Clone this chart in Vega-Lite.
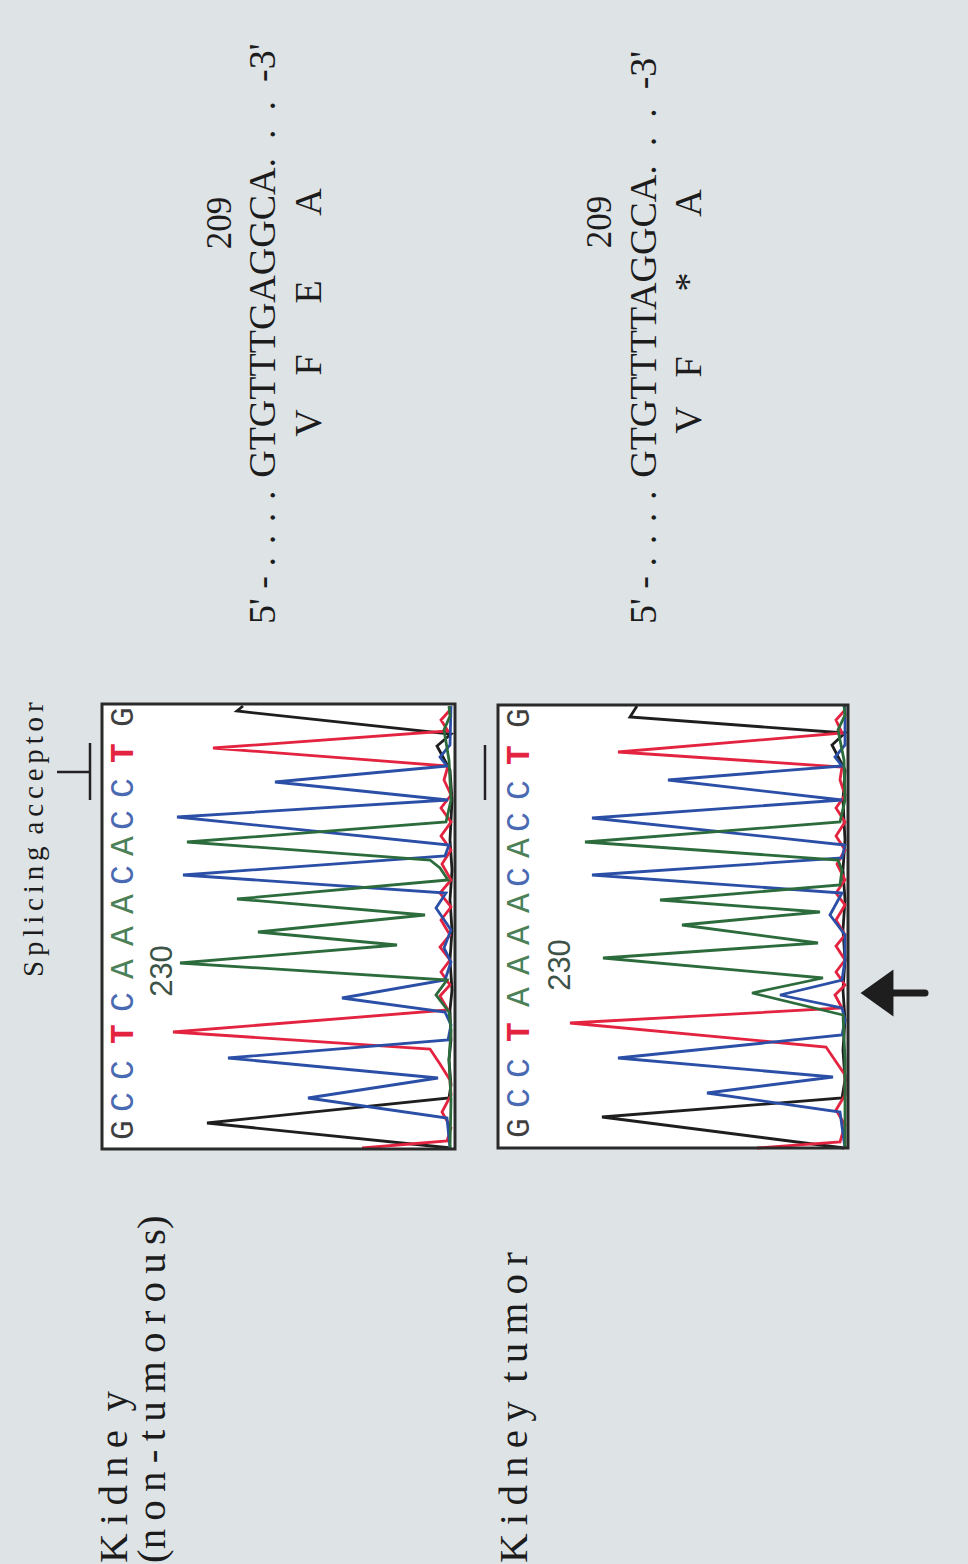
{
  "$schema": "https://vega.github.io/schema/vega-lite/v6.json",
  "width": 968,
  "height": 1564,
  "autosize": {"type": "fit", "contains": "padding"},
  "padding": 0,
  "background": "#dee3e6",
  "config": {"view": {"stroke": null}},
  "datasets": {
    "boxes": [
      {"x": 102, "x2": 455, "y": 704, "y2": 1149},
      {"x": 498, "x2": 848, "y": 705, "y2": 1148}
    ],
    "traces": [
      {"panel": 1, "base": "G", "x": 451, "y": 1148}, {"panel": 1, "base": "G", "x": 207, "y": 1123}, {"panel": 1, "base": "G", "x": 449, "y": 1098}, {"panel": 1, "base": "G", "x": 451, "y": 1085}, {"panel": 1, "base": "G", "x": 449, "y": 1060}, {"panel": 1, "base": "G", "x": 451, "y": 1040}, {"panel": 1, "base": "G", "x": 450, "y": 1010}, {"panel": 1, "base": "G", "x": 452, "y": 990}, {"panel": 1, "base": "G", "x": 450, "y": 960}, {"panel": 1, "base": "G", "x": 452, "y": 930}, {"panel": 1, "base": "G", "x": 450, "y": 900}, {"panel": 1, "base": "G", "x": 452, "y": 870}, {"panel": 1, "base": "G", "x": 450, "y": 840}, {"panel": 1, "base": "G", "x": 452, "y": 800}, {"panel": 1, "base": "G", "x": 450, "y": 770}, {"panel": 1, "base": "G", "x": 437, "y": 746}, {"panel": 1, "base": "G", "x": 451, "y": 734}, {"panel": 1, "base": "G", "x": 237, "y": 711}, {"panel": 1, "base": "G", "x": 243, "y": 706},
      {"panel": 1, "base": "T", "x": 362, "y": 1148}, {"panel": 1, "base": "T", "x": 447, "y": 1141}, {"panel": 1, "base": "T", "x": 451, "y": 1128}, {"panel": 1, "base": "T", "x": 442, "y": 1112}, {"panel": 1, "base": "T", "x": 451, "y": 1095}, {"panel": 1, "base": "T", "x": 450, "y": 1080}, {"panel": 1, "base": "T", "x": 440, "y": 1064}, {"panel": 1, "base": "T", "x": 430, "y": 1049}, {"panel": 1, "base": "T", "x": 173, "y": 1032}, {"panel": 1, "base": "T", "x": 448, "y": 1010}, {"panel": 1, "base": "T", "x": 440, "y": 996}, {"panel": 1, "base": "T", "x": 450, "y": 985}, {"panel": 1, "base": "T", "x": 441, "y": 972}, {"panel": 1, "base": "T", "x": 450, "y": 960}, {"panel": 1, "base": "T", "x": 440, "y": 947}, {"panel": 1, "base": "T", "x": 450, "y": 935}, {"panel": 1, "base": "T", "x": 441, "y": 920}, {"panel": 1, "base": "T", "x": 451, "y": 907}, {"panel": 1, "base": "T", "x": 440, "y": 893}, {"panel": 1, "base": "T", "x": 451, "y": 880}, {"panel": 1, "base": "T", "x": 442, "y": 864}, {"panel": 1, "base": "T", "x": 451, "y": 850}, {"panel": 1, "base": "T", "x": 441, "y": 836}, {"panel": 1, "base": "T", "x": 451, "y": 822}, {"panel": 1, "base": "T", "x": 441, "y": 808}, {"panel": 1, "base": "T", "x": 451, "y": 795}, {"panel": 1, "base": "T", "x": 444, "y": 780}, {"panel": 1, "base": "T", "x": 448, "y": 766}, {"panel": 1, "base": "T", "x": 213, "y": 748}, {"panel": 1, "base": "T", "x": 448, "y": 731}, {"panel": 1, "base": "T", "x": 441, "y": 720}, {"panel": 1, "base": "T", "x": 450, "y": 710},
      {"panel": 1, "base": "C", "x": 450, "y": 1148}, {"panel": 1, "base": "C", "x": 447, "y": 1118}, {"panel": 1, "base": "C", "x": 308, "y": 1098}, {"panel": 1, "base": "C", "x": 438, "y": 1078}, {"panel": 1, "base": "C", "x": 228, "y": 1058}, {"panel": 1, "base": "C", "x": 448, "y": 1040}, {"panel": 1, "base": "C", "x": 451, "y": 1025}, {"panel": 1, "base": "C", "x": 445, "y": 1012}, {"panel": 1, "base": "C", "x": 342, "y": 998}, {"panel": 1, "base": "C", "x": 445, "y": 980}, {"panel": 1, "base": "C", "x": 451, "y": 962}, {"panel": 1, "base": "C", "x": 444, "y": 948}, {"panel": 1, "base": "C", "x": 451, "y": 930}, {"panel": 1, "base": "C", "x": 436, "y": 908}, {"panel": 1, "base": "C", "x": 446, "y": 893}, {"panel": 1, "base": "C", "x": 183, "y": 875}, {"panel": 1, "base": "C", "x": 445, "y": 856}, {"panel": 1, "base": "C", "x": 449, "y": 845}, {"panel": 1, "base": "C", "x": 177, "y": 817}, {"panel": 1, "base": "C", "x": 448, "y": 800}, {"panel": 1, "base": "C", "x": 275, "y": 782}, {"panel": 1, "base": "C", "x": 447, "y": 766}, {"panel": 1, "base": "C", "x": 440, "y": 757}, {"panel": 1, "base": "C", "x": 450, "y": 745}, {"panel": 1, "base": "C", "x": 451, "y": 706},
      {"panel": 1, "base": "A", "x": 450, "y": 1148}, {"panel": 1, "base": "A", "x": 451, "y": 1100}, {"panel": 1, "base": "A", "x": 449, "y": 1060}, {"panel": 1, "base": "A", "x": 451, "y": 1030}, {"panel": 1, "base": "A", "x": 449, "y": 1012}, {"panel": 1, "base": "A", "x": 436, "y": 995}, {"panel": 1, "base": "A", "x": 447, "y": 980}, {"panel": 1, "base": "A", "x": 180, "y": 963}, {"panel": 1, "base": "A", "x": 397, "y": 945}, {"panel": 1, "base": "A", "x": 258, "y": 932}, {"panel": 1, "base": "A", "x": 425, "y": 915}, {"panel": 1, "base": "A", "x": 237, "y": 899}, {"panel": 1, "base": "A", "x": 448, "y": 880}, {"panel": 1, "base": "A", "x": 440, "y": 868}, {"panel": 1, "base": "A", "x": 430, "y": 860}, {"panel": 1, "base": "A", "x": 187, "y": 842}, {"panel": 1, "base": "A", "x": 446, "y": 822}, {"panel": 1, "base": "A", "x": 451, "y": 800}, {"panel": 1, "base": "A", "x": 449, "y": 760}, {"panel": 1, "base": "A", "x": 444, "y": 730}, {"panel": 1, "base": "A", "x": 450, "y": 716}, {"panel": 1, "base": "A", "x": 449, "y": 706},
      {"panel": 2, "base": "G", "x": 844, "y": 1148}, {"panel": 2, "base": "G", "x": 602, "y": 1117}, {"panel": 2, "base": "G", "x": 842, "y": 1098}, {"panel": 2, "base": "G", "x": 845, "y": 1080}, {"panel": 2, "base": "G", "x": 843, "y": 1050}, {"panel": 2, "base": "G", "x": 845, "y": 1020}, {"panel": 2, "base": "G", "x": 843, "y": 990}, {"panel": 2, "base": "G", "x": 845, "y": 960}, {"panel": 2, "base": "G", "x": 843, "y": 930}, {"panel": 2, "base": "G", "x": 845, "y": 900}, {"panel": 2, "base": "G", "x": 843, "y": 870}, {"panel": 2, "base": "G", "x": 845, "y": 840}, {"panel": 2, "base": "G", "x": 843, "y": 800}, {"panel": 2, "base": "G", "x": 845, "y": 770}, {"panel": 2, "base": "G", "x": 832, "y": 745}, {"panel": 2, "base": "G", "x": 845, "y": 733}, {"panel": 2, "base": "G", "x": 630, "y": 717}, {"panel": 2, "base": "G", "x": 637, "y": 706},
      {"panel": 2, "base": "T", "x": 757, "y": 1148}, {"panel": 2, "base": "T", "x": 840, "y": 1142}, {"panel": 2, "base": "T", "x": 845, "y": 1125}, {"panel": 2, "base": "T", "x": 836, "y": 1110}, {"panel": 2, "base": "T", "x": 845, "y": 1095}, {"panel": 2, "base": "T", "x": 845, "y": 1075}, {"panel": 2, "base": "T", "x": 826, "y": 1047}, {"panel": 2, "base": "T", "x": 570, "y": 1023}, {"panel": 2, "base": "T", "x": 842, "y": 1008}, {"panel": 2, "base": "T", "x": 835, "y": 995}, {"panel": 2, "base": "T", "x": 845, "y": 985}, {"panel": 2, "base": "T", "x": 836, "y": 972}, {"panel": 2, "base": "T", "x": 845, "y": 960}, {"panel": 2, "base": "T", "x": 836, "y": 946}, {"panel": 2, "base": "T", "x": 845, "y": 935}, {"panel": 2, "base": "T", "x": 836, "y": 920}, {"panel": 2, "base": "T", "x": 845, "y": 905}, {"panel": 2, "base": "T", "x": 836, "y": 893}, {"panel": 2, "base": "T", "x": 845, "y": 880}, {"panel": 2, "base": "T", "x": 837, "y": 864}, {"panel": 2, "base": "T", "x": 845, "y": 850}, {"panel": 2, "base": "T", "x": 836, "y": 836}, {"panel": 2, "base": "T", "x": 845, "y": 822}, {"panel": 2, "base": "T", "x": 836, "y": 808}, {"panel": 2, "base": "T", "x": 845, "y": 795}, {"panel": 2, "base": "T", "x": 840, "y": 780}, {"panel": 2, "base": "T", "x": 842, "y": 767}, {"panel": 2, "base": "T", "x": 618, "y": 752}, {"panel": 2, "base": "T", "x": 842, "y": 733}, {"panel": 2, "base": "T", "x": 836, "y": 720}, {"panel": 2, "base": "T", "x": 845, "y": 710},
      {"panel": 2, "base": "C", "x": 845, "y": 1148}, {"panel": 2, "base": "C", "x": 840, "y": 1112}, {"panel": 2, "base": "C", "x": 707, "y": 1093}, {"panel": 2, "base": "C", "x": 833, "y": 1077}, {"panel": 2, "base": "C", "x": 618, "y": 1058}, {"panel": 2, "base": "C", "x": 842, "y": 1035}, {"panel": 2, "base": "C", "x": 845, "y": 1020}, {"panel": 2, "base": "C", "x": 842, "y": 1008}, {"panel": 2, "base": "C", "x": 780, "y": 995}, {"panel": 2, "base": "C", "x": 842, "y": 980}, {"panel": 2, "base": "C", "x": 845, "y": 960}, {"panel": 2, "base": "C", "x": 845, "y": 935}, {"panel": 2, "base": "C", "x": 830, "y": 915}, {"panel": 2, "base": "C", "x": 842, "y": 893}, {"panel": 2, "base": "C", "x": 592, "y": 875}, {"panel": 2, "base": "C", "x": 842, "y": 858}, {"panel": 2, "base": "C", "x": 845, "y": 845}, {"panel": 2, "base": "C", "x": 592, "y": 818}, {"panel": 2, "base": "C", "x": 842, "y": 800}, {"panel": 2, "base": "C", "x": 668, "y": 780}, {"panel": 2, "base": "C", "x": 842, "y": 766}, {"panel": 2, "base": "C", "x": 835, "y": 757}, {"panel": 2, "base": "C", "x": 845, "y": 745}, {"panel": 2, "base": "C", "x": 845, "y": 706},
      {"panel": 2, "base": "A", "x": 845, "y": 1148}, {"panel": 2, "base": "A", "x": 845, "y": 1060}, {"panel": 2, "base": "A", "x": 843, "y": 1015}, {"panel": 2, "base": "A", "x": 752, "y": 993}, {"panel": 2, "base": "A", "x": 823, "y": 978}, {"panel": 2, "base": "A", "x": 603, "y": 958}, {"panel": 2, "base": "A", "x": 818, "y": 943}, {"panel": 2, "base": "A", "x": 682, "y": 925}, {"panel": 2, "base": "A", "x": 820, "y": 912}, {"panel": 2, "base": "A", "x": 660, "y": 900}, {"panel": 2, "base": "A", "x": 840, "y": 885}, {"panel": 2, "base": "A", "x": 842, "y": 870}, {"panel": 2, "base": "A", "x": 838, "y": 860}, {"panel": 2, "base": "A", "x": 585, "y": 842}, {"panel": 2, "base": "A", "x": 840, "y": 822}, {"panel": 2, "base": "A", "x": 845, "y": 800}, {"panel": 2, "base": "A", "x": 844, "y": 760}, {"panel": 2, "base": "A", "x": 838, "y": 730}, {"panel": 2, "base": "A", "x": 845, "y": 715}, {"panel": 2, "base": "A", "x": 844, "y": 706}
    ],
    "letters": [
      {"panel": 1, "base": "G", "x": 123, "y": 1130}, {"panel": 1, "base": "C", "x": 123, "y": 1102}, {"panel": 1, "base": "C", "x": 123, "y": 1070}, {"panel": 1, "base": "T", "x": 123, "y": 1034}, {"panel": 1, "base": "C", "x": 123, "y": 1002}, {"panel": 1, "base": "A", "x": 123, "y": 969}, {"panel": 1, "base": "A", "x": 123, "y": 936}, {"panel": 1, "base": "A", "x": 123, "y": 904}, {"panel": 1, "base": "C", "x": 123, "y": 875}, {"panel": 1, "base": "A", "x": 123, "y": 846}, {"panel": 1, "base": "C", "x": 123, "y": 820}, {"panel": 1, "base": "C", "x": 123, "y": 788}, {"panel": 1, "base": "T", "x": 123, "y": 753}, {"panel": 1, "base": "G", "x": 123, "y": 717},
      {"panel": 2, "base": "G", "x": 519, "y": 1128}, {"panel": 2, "base": "C", "x": 519, "y": 1098}, {"panel": 2, "base": "C", "x": 519, "y": 1068}, {"panel": 2, "base": "T", "x": 519, "y": 1032}, {"panel": 2, "base": "A", "x": 519, "y": 997}, {"panel": 2, "base": "A", "x": 519, "y": 965}, {"panel": 2, "base": "A", "x": 519, "y": 935}, {"panel": 2, "base": "A", "x": 519, "y": 903}, {"panel": 2, "base": "C", "x": 519, "y": 877}, {"panel": 2, "base": "A", "x": 519, "y": 848}, {"panel": 2, "base": "C", "x": 519, "y": 822}, {"panel": 2, "base": "C", "x": 519, "y": 790}, {"panel": 2, "base": "T", "x": 519, "y": 755}, {"panel": 2, "base": "G", "x": 519, "y": 718}
    ],
    "pos230": [
      {"x": 163, "y": 971, "t": "230"},
      {"x": 561, "y": 965, "t": "230"}
    ],
    "seq": [
      {"x": 264, "y": 624, "t": "5' - .\u2004.\u2004.\u2004.\u2004GTGTTTGAGGCA.\u2002.\u2002.\u2002-3'"},
      {"x": 645, "y": 624, "t": "5' - .\u2004.\u2004.\u2004.\u2004GTGTTTTAGGCA.\u2002.\u2002.\u2002-3'"}
    ],
    "num": [
      {"x": 220, "y": 223, "t": "209"},
      {"x": 600, "y": 222, "t": "209"}
    ],
    "aa": [
      {"x": 310, "y": 423, "t": "V"}, {"x": 310, "y": 365, "t": "F"}, {"x": 310, "y": 292, "t": "E"}, {"x": 310, "y": 202, "t": "A"},
      {"x": 690, "y": 420, "t": "V"}, {"x": 690, "y": 367, "t": "F"}, {"x": 690, "y": 282, "t": "*"}, {"x": 690, "y": 203, "t": "A"}
    ],
    "labels": [
      {"x": 115, "y": 1563, "t": "K\u2009i\u2009d\u2009n\u2009e\u2009 y"},
      {"x": 153, "y": 1563, "t": "(n\u2009o\u2009n\u2009-\u2009t\u2009u\u2009m\u2009o\u2009r\u2009o\u2009u\u2009s)"},
      {"x": 515, "y": 1563, "t": "K\u2009i\u2009d\u2009n\u2009e\u2009y\u2009 t\u2009u\u2009m\u2009o\u2009r"}
    ],
    "splice": [
      {"x": 34, "y": 977, "t": "S\u2006p\u2006l\u2006i\u2006c\u2006i\u2006n\u2006g\u2006 a\u2006c\u2006c\u2006e\u2006p\u2006t\u2006o\u2006r"}
    ],
    "rules": [
      {"x": 90, "y": 743, "x2": 90, "y2": 800},
      {"x": 57, "y": 772, "x2": 90, "y2": 772},
      {"x": 485, "y": 745, "x2": 485, "y2": 800}
    ],
    "arrowShaft": [
      {"x": 890, "y": 993, "x2": 925, "y2": 993}
    ],
    "arrowHead": [
      {"x": 877, "y": 993}
    ]
  },
  "encoding": {
    "x": {"field": "x", "type": "quantitative", "scale": {"domain": [0, 968], "nice": false, "zero": false}, "axis": null},
    "y": {"field": "y", "type": "quantitative", "scale": {"domain": [0, 1564], "nice": false, "zero": false, "reverse": true}, "axis": null}
  },
  "layer": [
    {
      "data": {"name": "boxes"},
      "mark": {"type": "rect", "fill": "#ffffff", "strokeWidth": 0},
      "encoding": {"x2": {"field": "x2"}, "y2": {"field": "y2"}}
    },
    {
      "data": {"name": "traces"},
      "mark": {"type": "line", "strokeWidth": 2.8, "strokeJoin": "miter"},
      "encoding": {
        "color": {"field": "base", "type": "nominal", "scale": {"domain": ["G", "A", "C", "T"], "range": ["#1e1e1e", "#2c6b3b", "#2b4fa6", "#e3233f"]}, "legend": null},
        "detail": {"field": "panel", "type": "nominal"},
        "order": {"value": null}
      }
    },
    {
      "data": {"name": "boxes"},
      "mark": {"type": "rect", "fillOpacity": 0, "stroke": "#2a2a2a", "strokeWidth": 3},
      "encoding": {"x2": {"field": "x2"}, "y2": {"field": "y2"}}
    },
    {
      "data": {"name": "letters"},
      "transform": [{"filter": "datum.base !== 'T'"}],
      "mark": {"type": "text", "angle": 270, "font": "Liberation Mono", "fontSize": 33, "align": "center", "baseline": "middle", "opacity": 0.85},
      "encoding": {
        "text": {"field": "base"},
        "color": {"field": "base", "type": "nominal", "legend": null}
      }
    },
    {
      "data": {"name": "letters"},
      "transform": [{"filter": "datum.base === 'T'"}],
      "mark": {"type": "text", "angle": 270, "font": "Liberation Mono", "fontSize": 33, "fontWeight": "bold", "align": "center", "baseline": "middle"},
      "encoding": {
        "text": {"field": "base"},
        "color": {"field": "base", "type": "nominal", "legend": null}
      }
    },
    {
      "data": {"name": "pos230"},
      "mark": {"type": "text", "angle": 270, "font": "Liberation Sans", "fontSize": 31, "align": "center", "baseline": "middle", "color": "#3d5347"},
      "encoding": {"text": {"field": "t"}}
    },
    {
      "data": {"name": "seq"},
      "mark": {"type": "text", "angle": 270, "font": "Liberation Serif", "fontSize": 38, "align": "left", "baseline": "middle", "color": "#1c1c1c"},
      "encoding": {"text": {"field": "t"}}
    },
    {
      "data": {"name": "num"},
      "mark": {"type": "text", "angle": 270, "font": "Liberation Serif", "fontSize": 35, "align": "center", "baseline": "middle", "color": "#1c1c1c"},
      "encoding": {"text": {"field": "t"}}
    },
    {
      "data": {"name": "aa"},
      "mark": {"type": "text", "angle": 270, "font": "Liberation Serif", "fontSize": 38, "align": "center", "baseline": "middle", "color": "#1c1c1c"},
      "encoding": {"text": {"field": "t"}}
    },
    {
      "data": {"name": "labels"},
      "mark": {"type": "text", "angle": 270, "font": "Liberation Serif", "fontSize": 41, "align": "left", "baseline": "middle", "color": "#1c1c1c"},
      "encoding": {"text": {"field": "t"}}
    },
    {
      "data": {"name": "splice"},
      "mark": {"type": "text", "angle": 270, "font": "Liberation Serif", "fontSize": 29, "align": "left", "baseline": "middle", "color": "#1c1c1c"},
      "encoding": {"text": {"field": "t"}}
    },
    {
      "data": {"name": "rules"},
      "mark": {"type": "rule", "color": "#222222", "strokeWidth": 2.5},
      "encoding": {"x2": {"field": "x2"}, "y2": {"field": "y2"}}
    },
    {
      "data": {"name": "arrowShaft"},
      "mark": {"type": "rule", "color": "#1e1e1e", "strokeWidth": 7, "strokeCap": "round"},
      "encoding": {"x2": {"field": "x2"}, "y2": {"field": "y2"}}
    },
    {
      "data": {"name": "arrowHead"},
      "mark": {"type": "point", "shape": "M-0.7,0L0.7,-1L0.7,1Z", "filled": true, "color": "#1e1e1e", "opacity": 1, "size": 2209},
      "encoding": {}
    }
  ]
}
